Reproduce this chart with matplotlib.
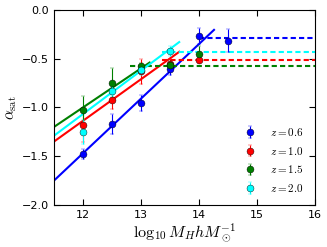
import numpy as np
import matplotlib
matplotlib.use('Agg')
import matplotlib.pyplot as plt

plt.rcParams['mathtext.fontset'] = 'cm'

# measured alpha_sat per redshift
mass = [12.0, 12.5, 13.0, 13.5, 14.0, 14.5]
z_labels = ['$z=0.6$', '$z=1.0$', '$z=1.5$', '$z=2.0$']
colors = ['blue', 'red', 'green', 'cyan']

alpha_z06 = [-1.48, -1.17, -0.955, -0.61, -0.27, -0.315]
err_z06 = [0.05, 0.10, 0.08, 0.06, 0.08, 0.12]
alpha_z10 = [-1.18, -0.92, -0.63, -0.55, -0.51]
err_z10 = [0.17, 0.10, 0.13, 0.05, 0.03]
alpha_z15 = [-1.03, -0.75, -0.58, -0.57, -0.455]
err_z15 = [0.15, 0.15, 0.04, 0.05, 0.08]
alpha_z20 = [-1.25, -0.83, -0.62, -0.42]
err_z20 = [0.12, 0.05, 0.05, 0.05]

# linear fits: (x_start, y_start, x_end, y_end)
fit_z06 = (11.5, -1.75, 14.26, -0.205)
fit_z10 = (11.5, -1.35, 13.66, -0.43)
fit_z15 = (11.5, -1.20, 13.15, -0.54)
fit_z20 = (11.5, -1.29, 13.66, -0.33)

# saturation level: (x_start, level)
sat_z06 = (14.0, -0.29)
sat_z10 = (13.36, -0.51)
sat_z15 = (12.81, -0.575)
sat_z20 = (13.36, -0.43)

alphas = [alpha_z06, alpha_z10, alpha_z15, alpha_z20]
errs = [err_z06, err_z10, err_z15, err_z20]
fits = [fit_z06, fit_z10, fit_z15, fit_z20]
sats = [sat_z06, sat_z10, sat_z15, sat_z20]

fig = plt.figure(figsize=(3.27, 2.47), dpi=100)
ax = fig.add_axes([0.165, 0.17, 0.798, 0.79])

for f, s, c in zip(fits, sats, colors):
    ax.plot([f[0], f[2]], [f[1], f[3]], '-', color=c, lw=1.5)
    ax.plot([s[0], 16], [s[1], s[1]], '--', color=c, lw=1.5, dashes=(2.5, 1.5))
for a, e, c, lab in zip(alphas, errs, colors, z_labels):
    ax.errorbar(mass[:len(a)], a, yerr=e, fmt='o', color=c, ms=5,
                mec='k', mew=0.3, elinewidth=0.8, capsize=1.5, label=lab)

ax.set_xlim(11.5, 16)
ax.set_ylim(-2.0, 0.0)
ax.set_xticks([12, 13, 14, 15, 16])
ax.set_yticks([0.0, -0.5, -1.0, -1.5, -2.0])
ax.tick_params(direction='in', top=True, right=True, labelsize=8, length=4)
ax.set_xlabel(r'$\log_{10} M_H h M_\odot^{-1}$', fontsize=11.5, labelpad=1)
ax.set_ylabel(r'$\alpha_{\rm sat}$', fontsize=11, labelpad=2)
ax.legend(loc='lower right', frameon=False, fontsize=8, numpoints=1,
          handletextpad=0.8, labelspacing=0.6, borderaxespad=0.6)

fig.savefig('out.png', dpi=100)
